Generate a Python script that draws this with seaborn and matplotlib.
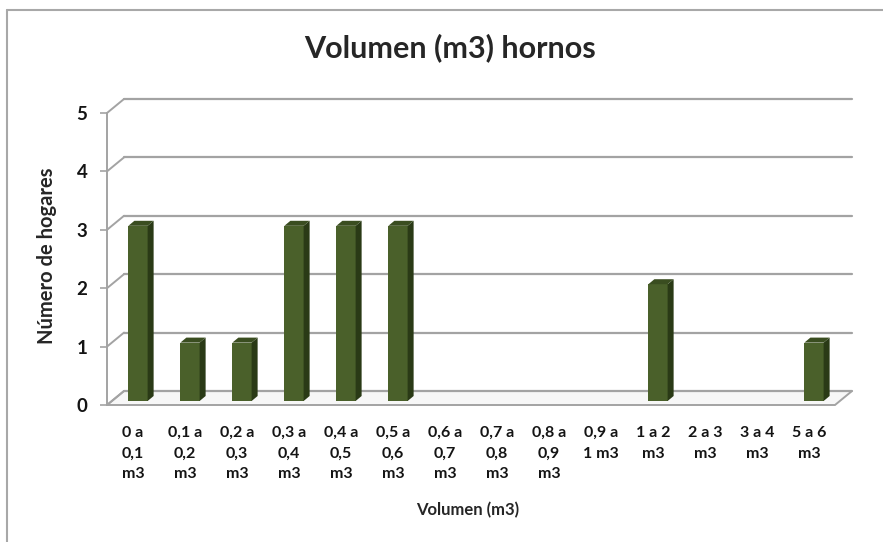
import matplotlib
matplotlib.use("Agg")
import matplotlib.pyplot as plt
from matplotlib.patches import Polygon
from matplotlib.lines import Line2D
import pandas as pd
import seaborn as sns

# datos del grafico
categorias = ["0 a\n0,1\nm3", "0,1 a\n0,2\nm3", "0,2 a\n0,3\nm3", "0,3 a\n0,4\nm3",
              "0,4 a\n0,5\nm3", "0,5 a\n0,6\nm3", "0,6 a\n0,7\nm3", "0,7 a\n0,8\nm3",
              "0,8 a\n0,9\nm3", "0,9 a\n1 m3", "1 a 2\nm3", "2 a 3\nm3", "3 a 4\nm3", "5 a 6\nm3"]
hogares = [3, 1, 1, 3, 3, 3, 0, 0, 0, 0, 2, 0, 0, 1]
yticks = [0, 1, 2, 3, 4, 5]

titulo = "Volumen (m3) hornos"
xlabel = "Volumen (m3)"
ylabel = "Número de hogares"

verde = "#4A602A"
verde_lado = "#2A3A16"
verde_top = "#3A4D20"
gris = "#A3A3A3"

sns.set_style("white")
plt.rcParams['font.family'] = ['Lato', 'DejaVu Sans']

W, H = 883, 542
fig = plt.figure(figsize=(W / 100, H / 100), dpi=100)
ax = fig.add_axes([107 / W, 1 - 405 / H, 728 / W, 292 / H])

df = pd.DataFrame({"cat": categorias, "n": hogares})
sns.barplot(data=df, x="cat", y="n", color=verde, saturation=1, width=0.37, ax=ax, zorder=3)
ax.set_xlim(-0.5, len(categorias) - 0.5)
ax.set_ylim(0, 5)

# conversion pixel -> datos
sx = (len(categorias)) / 728.0
sy = 5 / 292.0

def off(x, y, dx, dy):
    return (x + dx * sx, y + dy * sy)

x0, x1 = -0.5, len(categorias) - 0.5
bx, by = 17, 14  # profundidad del fondo

# suelo
suelo = Polygon([(x0, 0), (x1, 0), off(x1, 0, bx, by), off(x0, 0, bx, by)],
                closed=True, facecolor="#F7F7F7", edgecolor=gris, lw=1.4,
                zorder=1, clip_on=False)
ax.add_patch(suelo)

# lineas de fondo
for t in yticks:
    xa, ya = off(x0, t, bx, by)
    xb, yb = off(x1, t, bx, by)
    ax.add_line(Line2D([xa, xb], [ya, yb], color=gris, lw=1.6, zorder=1.2, clip_on=False))
    ax.add_line(Line2D([x0, xa], [t, ya], color=gris, lw=1.4, zorder=1.2, clip_on=False))

# barras en 3D
mx, my = 5, 4
dx, dy = 6, 5
for p in list(ax.patches):
    if p is suelo:
        continue
    h = p.get_height()
    if h <= 0:
        p.set_visible(False)
        continue
    p.set_x(p.get_x() + mx * sx)
    p.set_y(my * sy)
    p.set_edgecolor("none")
    x, w, y = p.get_x(), p.get_width(), p.get_y()
    lado = Polygon([(x + w, y), (x + w, y + h), off(x + w, y + h, dx, dy), off(x + w, y, dx, dy)],
                   closed=True, facecolor=verde_lado, edgecolor="none", zorder=3.1, clip_on=False)
    tapa = Polygon([(x, y + h), (x + w, y + h), off(x + w, y + h, dx, dy), off(x, y + h, dx, dy)],
                   closed=True, facecolor=verde_top, edgecolor="none", zorder=3.1, clip_on=False)
    ax.add_patch(lado)
    ax.add_patch(tapa)

sns.despine(ax=ax, left=False, bottom=True, top=True, right=True)
ax.spines["left"].set_color(gris)
ax.spines["left"].set_linewidth(1.4)
ax.set_yticks(yticks)
ax.tick_params(axis="y", length=5, width=1.2, color=gris, left=True, pad=9, labelsize=13.5)
ax.tick_params(axis="x", length=0, pad=15, labelsize=11.5)
for lab in ax.get_yticklabels() + ax.get_xticklabels():
    lab.set_fontweight("bold")
    lab.set_color("#141414")
for lab in ax.get_xticklabels():
    lab.set_linespacing(1.62)
    lab.set_verticalalignment("top")

ax.set_xlabel("")
ax.set_ylabel("")
fig.text(468 / W, 1 - 510 / H, xlabel, ha="center", va="center", fontsize=12, fontweight="bold")
fig.text(47 / W, 1 - 256 / H, ylabel, ha="center", va="center", rotation=90,
         fontsize=14.5, fontweight="bold")
fig.text(450 / W, 1 - 48 / H, titulo, ha="center", va="center", fontsize=22, fontweight="bold")

# marco exterior
fig.add_artist(Line2D([7 / W, 7 / W], [0, 1 - 10 / H], color="#A8A8A8", lw=1.5))
fig.add_artist(Line2D([7 / W, 1], [1 - 10 / H, 1 - 10 / H], color="#A8A8A8", lw=1.5))

fig.savefig("out.png", dpi=100)
